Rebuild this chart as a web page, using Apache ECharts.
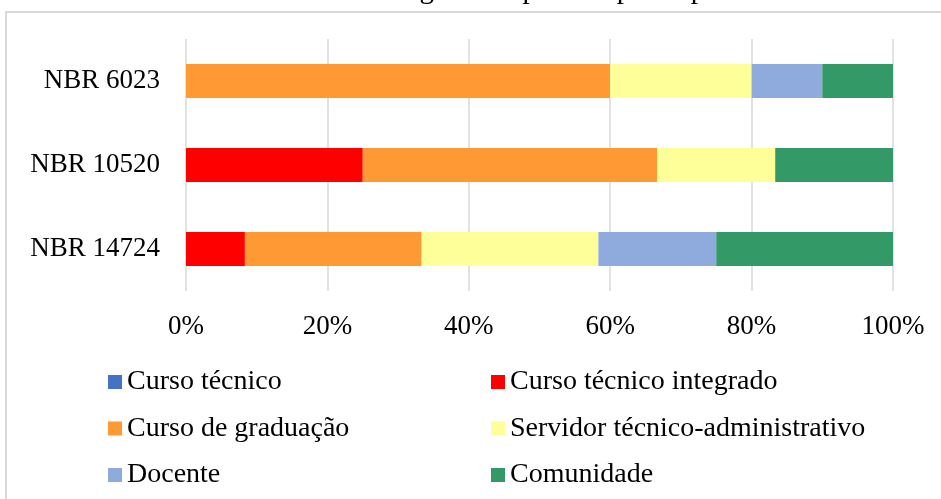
<!DOCTYPE html>
<html lang="pt">
<head>
    <meta charset="utf-8">
    <title>Gráfico 1</title>
    <script src="https://cdn.jsdelivr.net/npm/echarts@6.0.0/dist/echarts.min.js"></script>
    <style>
        html, body { margin: 0; padding: 0; background: #fff; overflow: hidden; }
        #wrap { position: relative; width: 941px; height: 499px; overflow: hidden; }
        /* moldura do gráfico: só o topo e o lado esquerdo aparecem */
        #frame {
            position: absolute; left: 5px; top: 11px; width: 1200px; height: 800px;
            border-top: 2px solid #d9d9d9; border-left: 2px solid #d9d9d9;
        }
        #chart { position: absolute; left: 0; top: 0; width: 941px; height: 499px; }
    </style>
</head>
<body>
<div id="wrap">
    <div id="frame"></div>
    <div id="chart"></div>
</div>
<script type="text/javascript">

// categorias (de baixo para cima)
var categories = ['NBR 14724', 'NBR 10520', 'NBR 6023'];

// percentuais por categoria de público
var cursoTecnico = [0, 0, 0];
var cursoIntegrado = [8.33, 25, 0];
var cursoGraduacao = [25, 41.67, 60];
var servidor = [25, 16.67, 20];
var docente = [16.67, 0, 10];
var comunidade = [25, 16.67, 10];

var seriesNames = ['Curso técnico', 'Curso técnico integrado', 'Curso de graduação',
    'Servidor técnico-administrativo', 'Docente', 'Comunidade'];
var seriesData = [cursoTecnico, cursoIntegrado, cursoGraduacao, servidor, docente, comunidade];
var colors = ['#4472C4', '#FF0000', '#FF9933', '#FFFF99', '#8FAADC', '#339966'];

var font = '"Liberation Serif", "DejaVu Serif", serif';

var chart = echarts.init(document.getElementById('chart'));

var series = seriesNames.map(function (name, i) {
    return {
        name: name,
        type: 'bar',
        stack: 'total',
        barWidth: 34,
        itemStyle: { color: colors[i] },
        data: seriesData[i]
    };
});

var legendText = { fontFamily: font, fontSize: 28, color: '#000', lineHeight: 28 };

var option = {
    animation: false,
    color: colors,
    title: {
        text: 'Gráfico 1 – Categoria do público participante',
        left: 222,
        top: -29,
        textStyle: { fontFamily: font, fontSize: 29, fontWeight: 'normal', color: '#000' }
    },
    legend: [{
        orient: 'vertical', left: 103, top: 363,
        itemWidth: 14, itemHeight: 14, itemGap: 18.5, icon: 'rect',
        data: [seriesNames[0], seriesNames[2], seriesNames[4]],
        textStyle: legendText
    }, {
        orient: 'vertical', left: 486, top: 363,
        itemWidth: 14, itemHeight: 14, itemGap: 18.5, icon: 'rect',
        data: [seriesNames[1], seriesNames[3], seriesNames[5]],
        textStyle: legendText
    }],
    grid: { left: 186, right: 48, top: 39, bottom: 208, containLabel: false },
    xAxis: {
        type: 'value', min: 0, max: 100, interval: 20,
        axisLine: { show: false },
        axisTick: { show: false },
        splitLine: { show: true, lineStyle: { color: '#d9d9d9', width: 1.5 } },
        axisLabel: { formatter: '{value}%', margin: 22, fontFamily: font, fontSize: 27, color: '#000' }
    },
    yAxis: {
        type: 'category',
        data: categories,
        axisLine: { show: false },
        axisTick: { show: false },
        axisLabel: { margin: 26, fontFamily: font, fontSize: 27, color: '#000' }
    },
    series: series
};

chart.setOption(option);

</script>
</body>
</html>
